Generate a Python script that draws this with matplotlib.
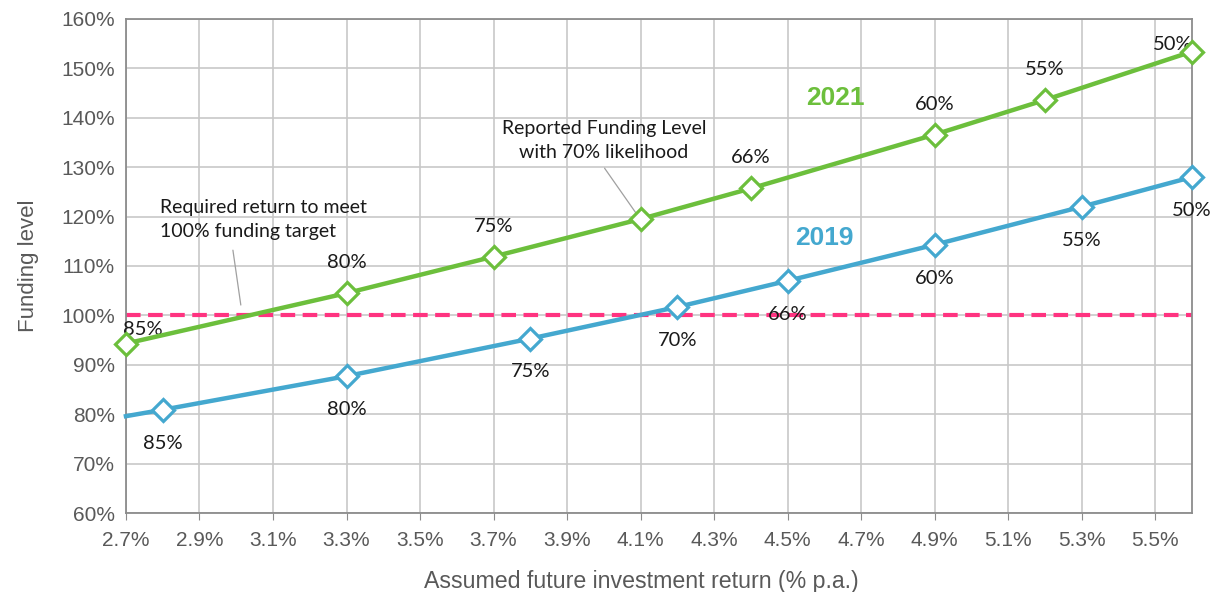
import matplotlib
matplotlib.use("Agg")
import matplotlib.pyplot as plt
from matplotlib.ticker import FuncFormatter, FixedLocator

# ---- data ----
x_2021 = [2.7, 3.3, 3.7, 4.1, 4.4, 4.9, 5.2, 5.6]
y_2021 = [94.3, 104.5, 111.9, 119.5, 125.7, 136.6, 143.6, 153.4]
lab_2021 = ["85%", "80%", "75%", "", "66%", "60%", "55%", "50%"]

x_2019 = [2.7, 2.8, 3.3, 3.8, 4.2, 4.5, 4.9, 5.3, 5.6]
y_2019 = [79.6, 80.9, 87.7, 95.3, 101.7, 107.0, 114.3, 122.0, 128.0]
lab_2019 = ["", "85%", "80%", "75%", "70%", "66%", "60%", "55%", "50%"]

target = 100
xticks = [2.7, 2.9, 3.1, 3.3, 3.5, 3.7, 3.9, 4.1, 4.3, 4.5, 4.7, 4.9, 5.1, 5.3, 5.5]
yticks = [60, 70, 80, 90, 100, 110, 120, 130, 140, 150, 160]

GREEN = "#6CBF3C"
BLUE = "#44A8CF"
PINK = "#FF3380"
GRAY = "#595959"

fig = plt.figure(figsize=(12.11, 5.92), dpi=100)
ax = fig.add_axes([0.104, 0.1334, 0.8803, 0.8346])

ax.set_xlim(2.7, 5.6)
ax.set_ylim(60, 160)
ax.xaxis.set_major_locator(FixedLocator(xticks))
ax.yaxis.set_major_locator(FixedLocator(yticks))
ax.xaxis.set_major_formatter(FuncFormatter(lambda v, p: f"{v:.1f}%"))
ax.yaxis.set_major_formatter(FuncFormatter(lambda v, p: f"{v:.0f}%"))
ax.grid(True, color="#C8C8C8", lw=1.2)
ax.set_axisbelow(True)
for s in ax.spines.values():
    s.set_color("#8C8C8C")
    s.set_linewidth(1.3)
ax.tick_params(axis="x", length=5, color="#8C8C8C", labelsize=15, labelcolor=GRAY, pad=8)
ax.tick_params(axis="y", length=0, labelsize=15, labelcolor=GRAY, pad=8)
for t in ax.get_xticklabels() + ax.get_yticklabels():
    t.set_family("Liberation Sans")

ax.axhline(target, color=PINK, lw=3, ls=(0, (3.5, 1.8)), zorder=2)

ax.plot(x_2021, y_2021, color=GREEN, lw=3.2, marker="D", ms=11, mfc="white",
        mec=GREEN, mew=2.3, zorder=4, clip_on=False)
ax.plot(x_2019, y_2019, color=BLUE, lw=3.2, marker="D", ms=11, mfc="white",
        mec=BLUE, mew=2.3, markevery=list(range(1, len(x_2019))), zorder=4, clip_on=False)

lfont = dict(family="Lato", fontsize=14.5, color="#1A1A1A")
for i, (xv, yv, lb) in enumerate(zip(x_2021, y_2021, lab_2021)):
    if not lb:
        continue
    dx, dy = 0, 22
    if i == 0:
        dx, dy = 12, 10
    if i == len(x_2021) - 1:
        dx, dy = -14, 5
    ax.annotate(lb, (xv, yv), xytext=(dx, dy), textcoords="offset points",
                ha="center", va="center", **lfont)
for i, (xv, yv, lb) in enumerate(zip(x_2019, y_2019, lab_2019)):
    if not lb:
        continue
    ax.annotate(lb, (xv, yv), xytext=(0, -24), textcoords="offset points",
                ha="center", va="center", **lfont)

ax.text(4.63, 144, "2021", color=GREEN, fontsize=19, fontweight="bold",
        family="Liberation Sans", ha="center", va="center")
ax.text(4.60, 115.7, "2019", color=BLUE, fontsize=19, fontweight="bold",
        family="Liberation Sans", ha="center", va="center")

afont = dict(family="Lato", fontsize=14, color="#1A1A1A")
ax.text(2.792, 119.4, "Required return to meet\n100% funding target",
        ha="left", va="center", linespacing=1.55, **afont)
ax.annotate("", xy=(3.0125, 102.1), xytext=(2.991, 113.2),
            arrowprops=dict(arrowstyle="-", color="#A0A0A0", lw=0.9, shrinkA=0, shrinkB=0))
ax.text(4.0, 135.4, "Reported Funding Level\nwith 70% likelihood",
        ha="center", va="center", linespacing=1.55, **afont)
ax.annotate("", xy=(4.097, 119.7), xytext=(4.002, 129.8),
            arrowprops=dict(arrowstyle="-", color="#A0A0A0", lw=0.9, shrinkA=0, shrinkB=0))

ax.set_ylabel("Funding level", fontsize=16, color=GRAY, family="Liberation Sans", labelpad=16)
ax.set_xlabel("Assumed future investment return (% p.a.)", fontsize=16.7, color=GRAY,
              family="Liberation Sans", labelpad=15)
ax.xaxis.set_label_coords(0.483, -0.115)

fig.savefig("out.png", dpi=100)
